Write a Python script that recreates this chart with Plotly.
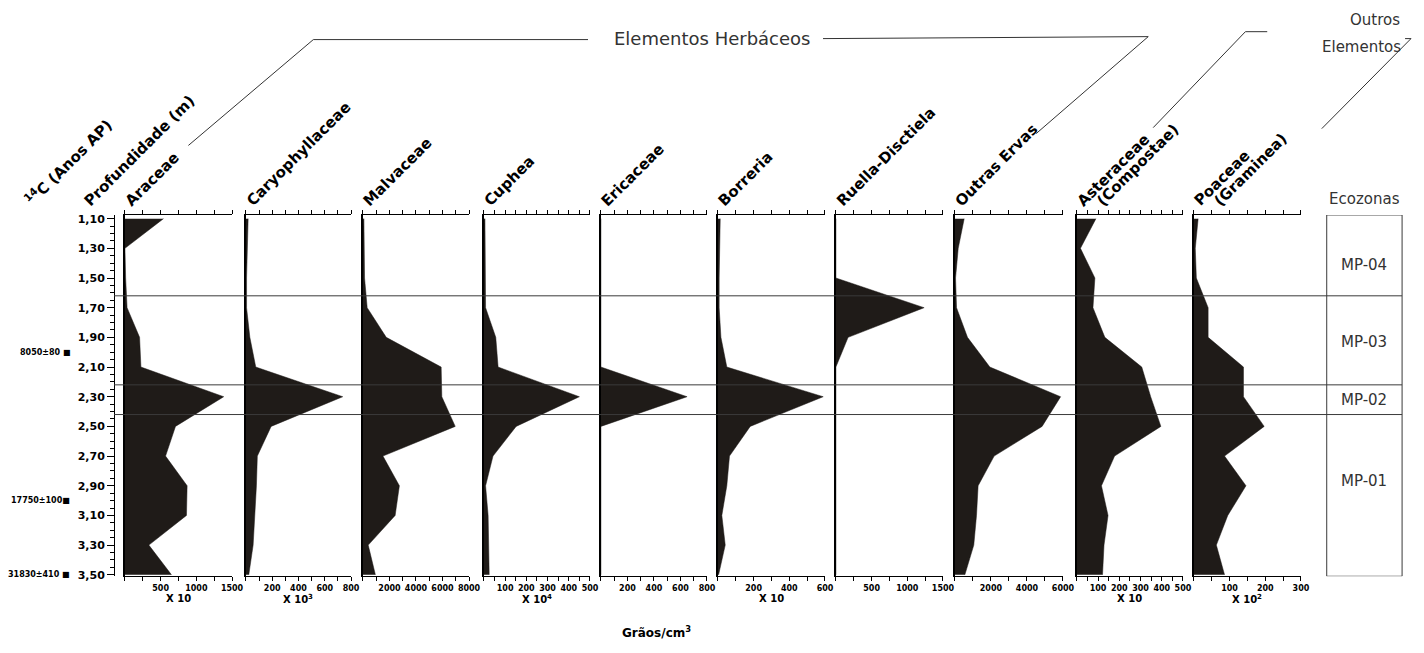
import plotly.graph_objects as go

W, H = 1424, 653

# Sample depths (m)
DEPTHS = [1.10, 1.30, 1.50, 1.70, 1.90, 2.10, 2.30, 2.50, 2.70, 2.90, 3.10, 3.30, 3.50]

# Pollen concentrations per taxon (grains/cm3, in the scaled units of each panel)
araceae = [540, 0, 10, 30, 205, 224, 1384, 708, 569, 871, 862, 335, 652]
caryophyllaceae = [17, 10, 5, 5, 30, 75, 737, 192, 87, 80, 67, 55, 22]
malvaceae = [74, 74, 124, 322, 1760, 5900, 5950, 6960, 1510, 2750, 2430, 400, 940]
cuphea = [5, 6, 8, 8, 56, 67, 450, 152, 43, 8, 20, 23, 25]
ericaceae = [0, 0, 0, 0, 0, 0, 650, 0, 0, 0, 0, 0, 0]
borreria = [13, 9, 7, 7, 17, 50, 590, 181, 65, 50, 22, 41, 4]
ruellia = [0, 0, 0, 1236, 171, 0, 0, 0, 0, 0, 0, 0, 0]
outras_ervas = [517, 185, 37, 92, 700, 1940, 5870, 4840, 2180, 1290, 1200, 1050, 554]
asteraceae = [90, 17, 85, 76, 132, 306, 348, 396, 178, 116, 147, 128, 121]
poaceae = [12, 4, 7, 40, 40, 139, 139, 197, 86, 146, 95, 63, 86]

SERIES = [araceae, caryophyllaceae, malvaceae, cuphea, ericaceae,
          borreria, ruellia, outras_ervas, asteraceae, poaceae]

# Axis maxima, labelled ticks and tick spacing for each panel
AXIS_MAX = [1500, 800, 8000, 500, 800, 600, 1500, 6000, 500, 300]
TICK_LABELS = [
    [500, 1000, 1500],
    [200, 400, 600, 800],
    [2000, 4000, 6000, 8000],
    [100, 200, 300, 400, 500],
    [200, 400, 600, 800],
    [200, 400, 600],
    [500, 1000, 1500],
    [2000, 4000, 6000],
    [100, 200, 300, 400, 500],
    [100, 200, 300],
]
TICK_STEP = [250, 100, 1000, 50, 100, 100, 250, 1000, 50, 50]
UNITS = ["X 10", "X 10<sup>3</sup>", "", "X 10<sup>4</sup>", "", "X 10", "", "", "X 10", "X 10<sup>2</sup>"]

# Panel headers (one or two lines each)
HEADERS = [["Araceae"], ["Caryophyllaceae"], ["Malvaceae"], ["Cuphea"], ["Ericaceae"],
           ["Borreria"], ["Ruella-Disctiela"], ["Outras Ervas"],
           ["Asteraceae", "(Compostae)"], ["Poaceae", "(Graminea)"]]

# Depth axis ticks
DEPTH_TICKS = [1.10, 1.30, 1.50, 1.70, 1.90, 2.10, 2.30, 2.50, 2.70, 2.90, 3.10, 3.30, 3.50]
DEPTH_LABELS = ["1,10", "1,30", "1,50", "1,70", "1,90", "2,10", "2,30", "2,50",
                "2,70", "2,90", "3,10", "3,30", "3,50"]

# Radiocarbon dates and their depths
AGES = ["8050±80 ■", "17750±100■", "31830±410 ■"]
AGE_DEPTHS = [2.00, 3.00, 3.50]

# Ecozones
ZONE_NAMES = ["MP-04", "MP-03", "MP-02", "MP-01"]
ZONE_BOUNDS = [1.62, 2.22, 2.42]
ZONE_LABEL_DEPTHS = [1.41, 1.93, 2.32, 2.87]

# Layout geometry (pixels)
PANEL_PX = [(126, 234), (248, 354), (366, 473), (488, 595), (606, 713),
            (724, 832), (843, 951), (963, 1072), (1086, 1193), (1204, 1312)]
Y_TOP_PX, Y_BOT_PX = 215.25, 580.5
DEPTH_RANGE = [3.51, 1.075]
DEPTH_AXIS_PX = 115
ECO_BOX_PX = (1338, 1414)

FILL = "#1f1b18"
BOLD = dict(family="DejaVu Sans", color="black", weight="bold")
PLAIN = dict(family="DejaVu Sans", color="#333333")
HEAD_SIZE = 15


def px(x):
    return x / W


def py(y):
    return 1 - y / H


y_dom = [py(Y_BOT_PX), py(Y_TOP_PX)]

fig = go.Figure()
layout = dict(
    width=W, height=H,
    margin=dict(l=0, r=0, t=0, b=0),
    paper_bgcolor="white", plot_bgcolor="rgba(0,0,0,0)",
    showlegend=False,
)

# Depth axis
layout["yaxis"] = dict(
    domain=y_dom, range=DEPTH_RANGE, anchor="free", position=px(DEPTH_AXIS_PX),
    side="left", showline=True, linecolor="black", linewidth=1,
    ticks="outside", ticklen=7, tickwidth=1, tickcolor="black",
    tickmode="array", tickvals=DEPTH_TICKS, ticktext=DEPTH_LABELS,
    tickfont=dict(size=11, **BOLD),
    minor=dict(tickmode="linear", tick0=1.10, dtick=0.05, ticks="outside",
               ticklen=4, tickcolor="black", showgrid=False),
    showgrid=False, zeroline=False,
)
fig.add_trace(go.Scatter(x=[None], y=[None], xaxis="x", yaxis="y",
                         hoverinfo="skip", showlegend=False))


def rotated(text, sx, sy):
    return dict(
        text=text, xref="paper", yref="paper", x=px(sx - 11), y=py(sy),
        xanchor="left", yanchor="bottom", textangle=-45, showarrow=False,
        font=dict(size=HEAD_SIZE, **BOLD),
    )


annotations = []
for i, vals in enumerate(SERIES):
    n = i + 1
    xname = "x" if n == 1 else f"x{n}"
    xkey = "xaxis" if n == 1 else f"xaxis{n}"
    ykey = f"yaxis{n + 1}"
    l, r = PANEL_PX[i]
    layout[xkey] = dict(
        domain=[px(l), px(r)], range=[0, AXIS_MAX[i]], anchor=f"y{n + 1}",
        showline=True, linecolor="black", linewidth=1, mirror="ticks",
        ticks="outside", ticklen=4, tickwidth=1, tickcolor="black",
        tickmode="array", tickvals=TICK_LABELS[i], ticktext=[str(v) for v in TICK_LABELS[i]],
        minor=dict(tickmode="linear", tick0=0, dtick=TICK_STEP[i], ticks="outside",
                   ticklen=4, tickcolor="black", showgrid=False),
        tickfont=dict(size=8, **BOLD), showgrid=False, zeroline=False,
    )
    layout[ykey] = dict(
        domain=y_dom, matches="y", anchor=xname,
        showline=True, linecolor="black", linewidth=1.5,
        ticks="", showticklabels=False, showgrid=False, zeroline=False,
    )
    fig.add_trace(go.Scatter(
        x=vals, y=DEPTHS, xaxis=xname, yaxis=f"y{n + 1}", mode="lines",
        line=dict(color=FILL, width=0.5), fill="tozerox", fillcolor=FILL,
        hoverinfo="skip", showlegend=False,
    ))
    if UNITS[i]:
        annotations.append(dict(
            text=UNITS[i], xref=f"{xname} domain", yref="paper", x=0.5, y=py(603),
            showarrow=False, font=dict(size=10, **BOLD), xanchor="center", yanchor="middle",
        ))
    # rotated panel headers
    for j, line in enumerate(HEADERS[i]):
        annotations.append(rotated(line, l + 5 + 20 * j, 213))

# Left headers
annotations.append(rotated("<sup>14</sup>C (Anos AP)", 29, 212))
annotations.append(rotated("Profundidade (m)", 89, 213))

# Radiocarbon dates
for txt, d in zip(AGES, AGE_DEPTHS):
    annotations.append(dict(
        text=txt, xref="paper", yref="y", x=px(73), y=d, xanchor="right",
        yanchor="middle", showarrow=False, font=dict(size=8, **BOLD),
    ))

# Ecozone labels
eco_cx = px((ECO_BOX_PX[0] + ECO_BOX_PX[1]) / 2)
for name, d in zip(ZONE_NAMES, ZONE_LABEL_DEPTHS):
    annotations.append(dict(
        text=name, xref="paper", yref="y", x=eco_cx, y=d,
        xanchor="center", yanchor="middle", showarrow=False, font=dict(size=15, **PLAIN),
    ))


def plain(text, x, y, size, anchor="center"):
    return dict(text=text, xref="paper", yref="paper", x=px(x), y=py(y),
                xanchor=anchor, yanchor="middle", showarrow=False,
                font=dict(size=size, **PLAIN))


annotations.append(plain("Ecozonas", (ECO_BOX_PX[0] + ECO_BOX_PX[1]) / 2, 199, 15))
annotations.append(plain("Elementos Herbáceos", 718, 37, 18))
annotations.append(plain("Outros", ECO_BOX_PX[1], 18, 15, "right"))
annotations.append(plain("Elementos", ECO_BOX_PX[1] + 1, 45, 15, "right"))

# Axis-x label
annotations.append(dict(text="Grãos/cm<sup>3</sup>", xref="paper", yref="paper",
                        x=px(662), y=py(637), xanchor="center", yanchor="middle",
                        showarrow=False, font=dict(size=12, **BOLD)))

shapes = []
# Ecozone divisions across the whole diagram
for b in ZONE_BOUNDS:
    shapes.append(dict(type="line", xref="paper", yref="y", x0=px(DEPTH_AXIS_PX), x1=px(ECO_BOX_PX[1]),
                       y0=b, y1=b, line=dict(color="#3a3a3a", width=1), layer="above"))
shapes.append(dict(type="rect", xref="paper", yref="y", x0=px(ECO_BOX_PX[0]), x1=px(ECO_BOX_PX[1]),
                   y0=DEPTH_RANGE[1], y1=DEPTH_RANGE[0], line=dict(color="#3a3a3a", width=1)))

# Bracket lines for the group headers
bracket_lines = [
    [(190, 145), (316, 38), (593, 38)],
    [(830, 37), (1158, 35), (1045, 133)],
    [(1163, 127), (1256, 30), (1278, 30)],
    [(1417, 37), (1423, 37), (1333, 128)],
]
for pts in bracket_lines:
    for (x0, y0), (x1, y1) in zip(pts[:-1], pts[1:]):
        shapes.append(dict(type="line", xref="paper", yref="paper", x0=px(x0), y0=py(y0),
                           x1=px(x1), y1=py(y1), line=dict(color="#333333", width=1)))

layout["annotations"] = annotations
layout["shapes"] = shapes
fig.update_layout(**layout)
fig.write_html("out.html")
